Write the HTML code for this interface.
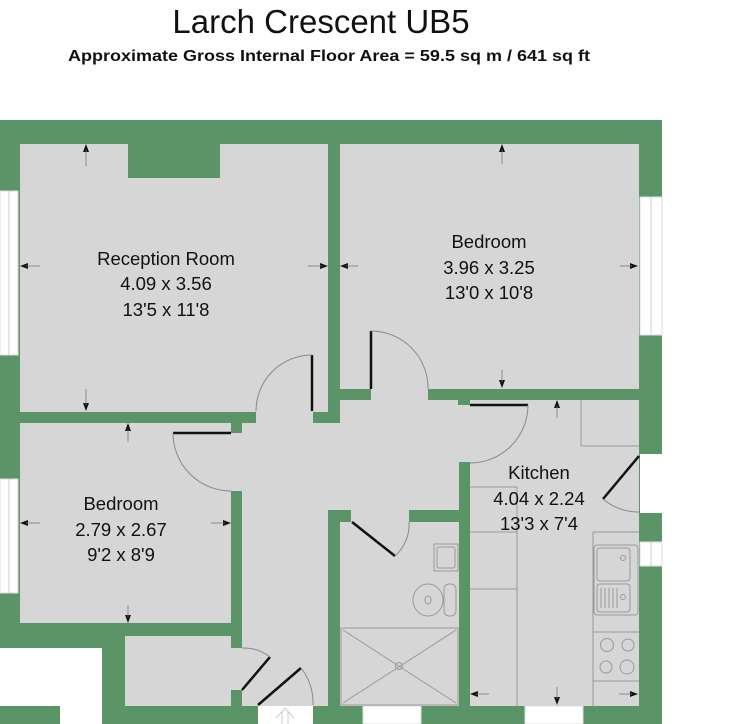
<!DOCTYPE html>
<html><head><meta charset="utf-8"><style>
html,body{margin:0;padding:0;background:#fff;}
svg{display:block;}
text{font-family:"Liberation Sans",Arial,sans-serif;}
</style></head><body>
<svg width="730" height="724" viewBox="0 0 730 724" xmlns="http://www.w3.org/2000/svg">
<rect width="730" height="724" fill="#fff"/>
<text x="321" y="33" font-size="33" text-anchor="middle" fill="#111">Larch Crescent UB5</text>
<text x="329" y="61" font-size="15.5" font-weight="bold" text-anchor="middle" fill="#111" textLength="522" lengthAdjust="spacingAndGlyphs">Approximate Gross Internal Floor Area = 59.5 sq m / 641 sq ft</text>

<rect x="0" y="120" width="662" height="604" fill="#5a9467"/>
<rect x="0" y="648" width="102" height="76" fill="#fff"/>
<rect x="0" y="706" width="60" height="18" fill="#5a9467"/>

<g fill="#fff" stroke="#ddd" stroke-width="1">
<rect x="0" y="191" width="18" height="164"/>
<rect x="0" y="479" width="18" height="114"/>
<rect x="640" y="197" width="22" height="138"/>
<rect x="640" y="454" width="22" height="59" stroke="none"/>
<rect x="640" y="542" width="22" height="24"/>
<rect x="363" y="706" width="58" height="18"/>
<rect x="525" y="706" width="58" height="18"/>
<rect x="258" y="706" width="55" height="18" stroke="none"/>
</g>
<line x1="9" y1="191" x2="9" y2="355" stroke="#ccc"/>
<line x1="9" y1="479" x2="9" y2="593" stroke="#ccc"/>
<line x1="651" y1="197" x2="651" y2="335" stroke="#ccc"/>
<line x1="651" y1="542" x2="651" y2="566" stroke="#ccc"/>

<g fill="#d6d6d6">
<rect x="20" y="144" width="308" height="268"/>
<rect x="256" y="355" width="57" height="68"/>
<rect x="340" y="144" width="299" height="245"/>
<rect x="371" y="385" width="57" height="20"/>
<rect x="20" y="423" width="211" height="200"/>
<rect x="242" y="423" width="98" height="283"/>
<rect x="340" y="400" width="299" height="62"/>
<rect x="340" y="400" width="119" height="110"/>
<rect x="470" y="400" width="169" height="306"/>
<rect x="340" y="522" width="119" height="184"/>
<rect x="351" y="508" width="58" height="16"/>
<rect x="125" y="636" width="106" height="70"/>
<rect x="229" y="648" width="15" height="42"/>
<rect x="229" y="433" width="15" height="58"/>
</g>
<g fill="#5a9467">
<rect x="128" y="144" width="92" height="34"/>
<rect x="328" y="144" width="12" height="245"/>
<rect x="20" y="412" width="236" height="11"/>
<rect x="231" y="423" width="11" height="10"/>
<rect x="313" y="412" width="27" height="11"/>
<rect x="328" y="389" width="43" height="11"/>
<rect x="428" y="389" width="211" height="11"/>
<rect x="458" y="400" width="12" height="5"/>
<rect x="231" y="491" width="11" height="157"/>
<rect x="231" y="690" width="11" height="16"/>
<rect x="20" y="623" width="222" height="13"/>
<rect x="102" y="636" width="23" height="88"/>
<rect x="328" y="510" width="12" height="196"/>
<rect x="328" y="510" width="23" height="12"/>
<rect x="409" y="510" width="50" height="12"/>
<rect x="459" y="462" width="11" height="244"/>
</g>

<g stroke="#111" stroke-width="2.5" fill="none">
<line x1="312" y1="355" x2="312" y2="411"/>
<line x1="371" y1="331" x2="371" y2="389"/>
<line x1="173" y1="433" x2="231" y2="433"/>
<line x1="470" y1="405" x2="528" y2="405"/>
<line x1="639" y1="456" x2="603" y2="499"/>
<line x1="352" y1="522" x2="395" y2="556"/>
<line x1="242" y1="690" x2="270" y2="657"/>
<line x1="258" y1="705" x2="301" y2="668"/>
</g>
<g stroke="#888" stroke-width="1" fill="none">
<path d="M312 355 A56 56 0 0 0 256 411"/>
<path d="M371 331 A57 57 0 0 1 428 389"/>
<path d="M173 433 A58 58 0 0 0 231 491"/>
<path d="M528 405 A58 58 0 0 1 470 463"/>
<path d="M603 499 A56 56 0 0 0 639 512"/>
<path d="M395 556 A42 42 0 0 0 409 522"/>
<path d="M242 648 A42 42 0 0 1 270 657"/>
<path d="M301 668 A57 57 0 0 1 313 705"/>
</g>
<g stroke="#ccc" fill="none" stroke-width="1"><path d="M276 718 L285 708 L294 718 M282 724 V712 M288 724 V712"/></g>

<g stroke="#999" stroke-width="1" fill="none">
<line x1="581" y1="400" x2="581" y2="446"/><line x1="581" y1="446" x2="639" y2="446"/>
<line x1="470" y1="487" x2="517" y2="487"/>
<line x1="517" y1="487" x2="517" y2="706"/>
<line x1="470" y1="532" x2="517" y2="532"/>
<line x1="470" y1="589" x2="517" y2="589"/>
<line x1="593" y1="532" x2="639" y2="532"/>
<line x1="593" y1="532" x2="593" y2="706"/>
<rect x="594" y="545" width="44" height="70" rx="3"/>
<rect x="597" y="548" width="33" height="33" rx="3"/>
<rect x="597" y="584" width="33" height="28" rx="3"/>
<line x1="601" y1="588" x2="601" y2="608"/><line x1="605" y1="588" x2="605" y2="608"/><line x1="609" y1="588" x2="609" y2="608"/><line x1="613" y1="588" x2="613" y2="608"/><line x1="617" y1="588" x2="617" y2="608"/>
<circle cx="623" cy="558" r="2.5"/><circle cx="623" cy="597" r="2.5"/>
<line x1="593" y1="632" x2="639" y2="632"/>
<line x1="593" y1="681" x2="639" y2="681"/>
<circle cx="607" cy="645" r="6.5"/><circle cx="628" cy="645" r="6"/>
<circle cx="606" cy="667" r="6"/><circle cx="627" cy="667" r="7"/>
<rect x="434" y="544" width="24" height="27"/>
<rect x="437" y="547" width="18" height="21" rx="2"/>
<ellipse cx="428" cy="600" rx="15" ry="16"/>
<ellipse cx="428" cy="600" rx="3" ry="4"/>
<rect x="444" y="584" width="12" height="32" rx="5"/>
<rect x="341" y="628" width="117" height="77"/>
<line x1="343" y1="630" x2="456" y2="703"/><line x1="456" y1="630" x2="343" y2="703"/>
<circle cx="399" cy="666" r="3.5"/>
</g>

<g fill="#111">
<path d="M86 144 l-3 8 h6z"/><path d="M86 411 l-3 -8 h6z"/>
<path d="M20 266 l8 -3 v6z"/><path d="M328 266 l-8 -3 v6z"/>
<path d="M502 144 l-3 8 h6z"/><path d="M502 388 l-3 -8 h6z"/>
<path d="M340 266 l8 -3 v6z"/><path d="M638 266 l-8 -3 v6z"/>
<path d="M128 423 l-3 8 h6z"/><path d="M128 623 l-3 -8 h6z"/>
<path d="M20 523 l8 -3 v6z"/><path d="M231 523 l-8 -3 v6z"/>
<path d="M557 400 l-3 8 h6z"/><path d="M557 705 l-3 -8 h6z"/>
<path d="M470 694 l8 -3 v6z"/><path d="M638 694 l-8 -3 v6z"/>
</g>
<g stroke="#777" stroke-width="0.8">
<line x1="86" y1="150" x2="86" y2="166"/><line x1="86" y1="389" x2="86" y2="405"/>
<line x1="26" y1="266" x2="40" y2="266"/><line x1="308" y1="266" x2="322" y2="266"/>
<line x1="502" y1="150" x2="502" y2="164"/><line x1="502" y1="370" x2="502" y2="382"/>
<line x1="346" y1="266" x2="358" y2="266"/><line x1="620" y1="266" x2="632" y2="266"/>
<line x1="128" y1="429" x2="128" y2="442"/><line x1="128" y1="605" x2="128" y2="617"/>
<line x1="26" y1="523" x2="40" y2="523"/><line x1="211" y1="523" x2="225" y2="523"/>
<line x1="557" y1="406" x2="557" y2="418"/><line x1="557" y1="687" x2="557" y2="699"/>
<line x1="476" y1="694" x2="489" y2="694"/><line x1="619" y1="694" x2="632" y2="694"/>
</g>

<g font-size="18.5" fill="#111" text-anchor="middle">
<text x="166" y="265">Reception Room</text>
<text x="166" y="290">4.09 x 3.56</text>
<text x="166" y="316">13'5 x 11'8</text>
<text x="489" y="248">Bedroom</text>
<text x="489" y="274">3.96 x 3.25</text>
<text x="489" y="299">13'0 x 10'8</text>
<text x="121" y="510">Bedroom</text>
<text x="121" y="536">2.79 x 2.67</text>
<text x="121" y="561">9'2 x 8'9</text>
<text x="539" y="479">Kitchen</text>
<text x="539" y="505">4.04 x 2.24</text>
<text x="539" y="530">13'3 x 7'4</text>
</g>
</svg>
</body></html>
